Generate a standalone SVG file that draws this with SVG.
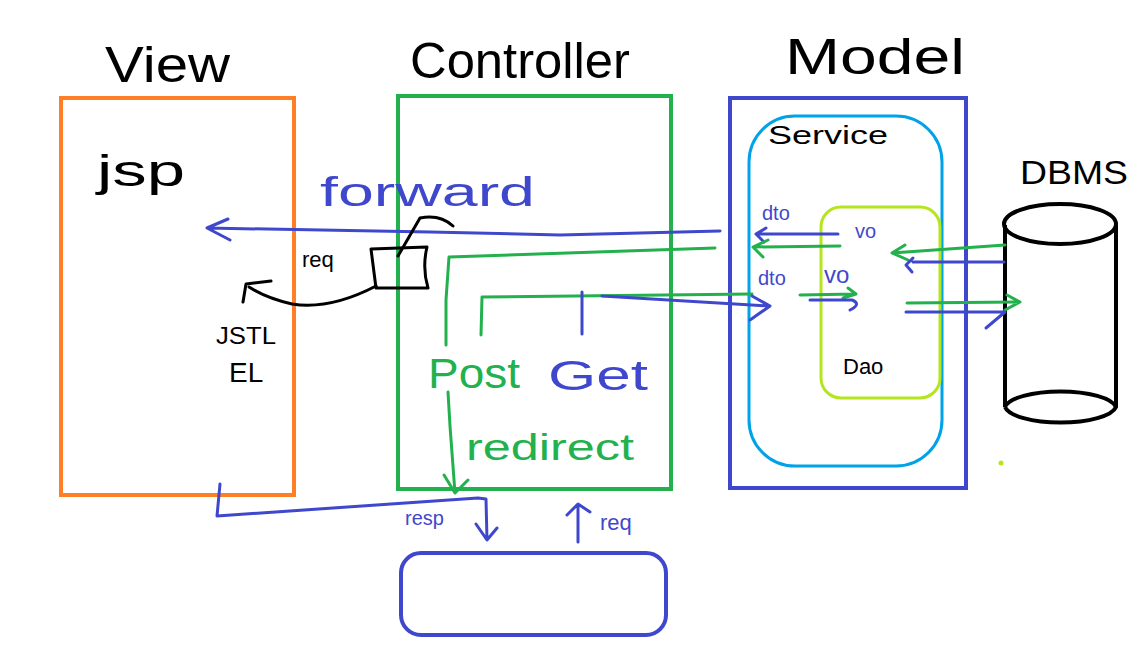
<svg xmlns="http://www.w3.org/2000/svg" width="1141" height="648" viewBox="0 0 1141 648">
<style>
.t{font-family:"Liberation Sans",Arial,sans-serif}
.big{font-size:50px;fill:#000}
.k{fill:#000}
.b{fill:#3f48cc}
.g{fill:#22b14c}
.ln{fill:none;stroke-width:3;stroke-linecap:round;stroke-linejoin:round}
.sb{stroke:#3f48cc}
.sg{stroke:#22b14c}
.sk{stroke:#000}
</style>
<rect width="1141" height="648" fill="#fff"/>
<g id="view">
<rect x="61" y="98" width="233" height="397" fill="none" stroke="#ff7f27" stroke-width="4"/>
<text class="t big" x="105" y="82" textLength="125" lengthAdjust="spacingAndGlyphs">View</text>
<text class="t k" x="97" y="186" font-size="44" textLength="88" lengthAdjust="spacingAndGlyphs">jsp</text>
<text class="t k" x="216" y="344" font-size="24" textLength="60" lengthAdjust="spacingAndGlyphs">JSTL</text>
<text class="t k" x="229" y="382" font-size="28">EL</text>
</g>
<g id="controller">
<rect x="398" y="96" width="273" height="393" fill="none" stroke="#22b14c" stroke-width="4"/>
<text class="t big" x="410" y="78" textLength="220" lengthAdjust="spacingAndGlyphs">Controller</text>
<text class="t k" x="302" y="267" font-size="22">req</text>
<path class="ln sk" d="M371 249 L427 247 Q422 268 428 288 L376 288 Z"/>
<text class="t g" x="428" y="388" font-size="42" textLength="92" lengthAdjust="spacingAndGlyphs">Post</text>
<text class="t b" x="548" y="390" font-size="42" textLength="100" lengthAdjust="spacingAndGlyphs">Get</text>
<text class="t g" x="466" y="460" font-size="36" textLength="168" lengthAdjust="spacingAndGlyphs">redirect</text>
</g>
<g id="model">
<rect x="730" y="98" width="236" height="390" fill="none" stroke="#3f48cc" stroke-width="4"/>
<text class="t big" x="785" y="74" textLength="180" lengthAdjust="spacingAndGlyphs">Model</text>
</g>
<g id="service">
<rect x="749" y="116" width="193" height="350" rx="46" fill="none" stroke="#00a2e8" stroke-width="3"/>
<text class="t k" x="768" y="144" font-size="26" textLength="120" lengthAdjust="spacingAndGlyphs">Service</text>
<text class="t b" x="762" y="220" font-size="20">dto</text>
<text class="t b" x="758" y="285" font-size="20">dto</text>
</g>
<g id="dao">
<rect x="821" y="207" width="119" height="191" rx="20" fill="none" stroke="#b5e61d" stroke-width="3"/>
<text class="t b" x="855" y="238" font-size="20">vo</text>
<text class="t b" x="824" y="283" font-size="24">vo</text>
<text class="t k" x="843" y="374" font-size="22">Dao</text>
</g>
<g id="dbms">
<text class="t k" x="1020" y="184" font-size="34" textLength="108" lengthAdjust="spacingAndGlyphs">DBMS</text>
<path d="M1005 225 L1005 407 M1116 225 L1116 407" fill="none" stroke="#000" stroke-width="4"/>
<ellipse cx="1060" cy="224" rx="56" ry="20" fill="none" stroke="#000" stroke-width="4"/>
<path d="M1005 407 A56 18 0 0 0 1116 407 A56 18 0 0 0 1005 407" fill="none" stroke="#000" stroke-width="4"/>
</g>
<g id="client">
<rect x="401" y="553" width="265" height="82" rx="20" fill="none" stroke="#3f48cc" stroke-width="4"/>
</g>
<g id="connectors">
<text class="t b" x="320" y="206" font-size="40" textLength="215" lengthAdjust="spacingAndGlyphs">forward</text>
<path class="ln sb" d="M720 231 L560 235 L430 232 L207 228 M228 219 L207 228 L230 240"/>
<path class="ln sk" d="M398 256 L420 218 Q440 214 453 226"/>
<path class="ln sk" d="M376 286 Q330 310 292 304 Q266 298 249 287 M243 302 L246 284 L271 281"/>
<path class="ln sg" d="M715 248 L449 257 L446 300 L446 345"/>
<path class="ln sg" d="M448 392 L450 426 L455 493 M444 475 L455 493 L468 480"/>
<path class="ln sg" d="M481 335 L482 297 L752 294"/>
<path class="ln sb" d="M582 292 L582 334"/>
<path class="ln sb" d="M602 296 L770 306 M752 296 L770 306 L750 320"/>
<path class="ln sb" d="M220 484 L217 516 L478 498 L486 499 L487 540 M476 524 L487 540 L497 528"/>
<text class="t b" x="405" y="525" font-size="20">resp</text>
<path class="ln sb" d="M578 542 L578 505 M567 515 L578 504 L590 512"/>
<text class="t b" x="600" y="530" font-size="22">req</text>
<path class="ln sb" d="M838 234 L757 234 M766 228 L756 234 L764 242"/>
<path class="ln sg" d="M840 246 L753 247 M768 240 L753 247 L763 257"/>
<path class="ln sg" d="M800 295 L855 294 M848 288 L856 294 L843 298"/>
<path class="ln sb" d="M810 300 L852 300 Q862 304 850 310"/>
<path class="ln sg" d="M1005 245 L892 253 M905 245 L892 253 L908 260"/>
<path class="ln sb" d="M1004 262 L913 262 M913 258 L906 265 L912 272"/>
<path class="ln sg" d="M907 303 L1020 302 M1007 295 L1020 302 L1005 310"/>
<path class="ln sb" d="M906 312 L1005 312 L986 328"/>
<circle cx="1001" cy="463" r="2.5" fill="#b5e61d"/>
</g>
</svg>
